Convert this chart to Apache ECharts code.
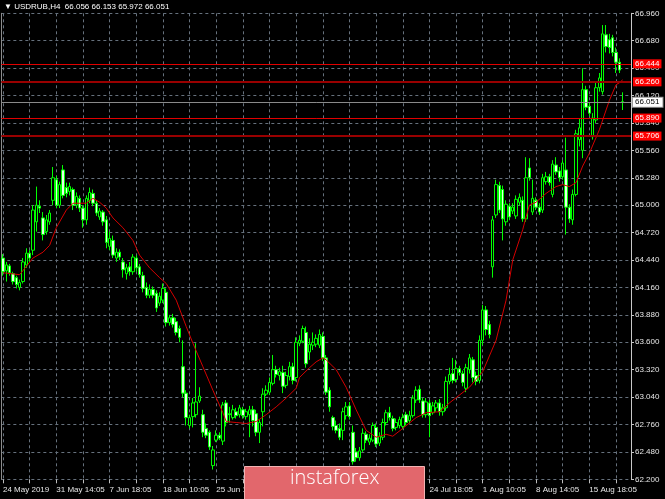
<!DOCTYPE html>
<html><head><meta charset="utf-8">
<script src="https://cdn.jsdelivr.net/npm/echarts@6/dist/echarts.min.js"></script>
<style>html,body{margin:0;padding:0;background:#000;}#c{width:665px;height:499px;}</style>
</head><body><div id="c"></div>
<script>
const symbolName = 'USDRUB,H4';
const timeLabels = ['24 May 2019','31 May 14:05','7 Jun 18:05','18 Jun 10:05','25 Jun 14:05','2 Jul 18:05','10 Jul 10:05','17 Jul 14:05','24 Jul 18:05','1 Aug 10:05','8 Aug 14:05','15 Aug 18:05'];
const barsPerLabel = 16;
const yMin = 62.2, yMax = 66.96, yStep = 0.28;

const opens = [
64.46,64.33,64.38,64.30,64.26,64.16,64.22,64.39,64.51,64.54,
64.83,64.99,64.87,64.73,64.83,65.05,65.26,65.00,65.36,65.18,
65.14,65.16,65.00,65.07,64.97,64.85,65.05,65.12,65.02,64.88,
64.93,64.85,64.58,64.64,64.46,64.52,64.42,64.30,64.37,64.32,
64.46,64.37,64.28,64.16,64.08,64.14,64.10,64.00,64.03,64.11,
63.80,63.85,63.81,63.74,63.35,63.08,62.75,62.84,62.86,63.00,
62.86,62.72,62.68,62.34,62.60,62.65,62.59,62.98,62.87,62.83,
62.89,62.86,62.91,62.84,62.86,62.91,62.87,62.68,62.89,63.07,
63.09,63.18,63.32,63.26,63.29,63.16,63.25,63.35,63.24,63.59,
63.61,63.70,63.50,63.57,63.58,63.57,63.66,63.44,63.11,62.83,
62.75,62.72,62.70,62.85,62.95,62.68,62.48,62.42,62.50,62.66,
62.58,62.60,62.73,62.57,62.63,62.78,62.88,62.82,62.73,62.75,
62.74,62.86,62.80,62.85,63.01,63.12,63.00,62.86,62.98,62.88,
62.93,62.98,62.89,62.93,63.20,63.28,63.22,63.33,63.28,63.13,
63.32,63.42,63.26,63.21,63.62,63.93,63.78,64.37,64.90,65.20,
65.16,64.83,64.99,64.94,64.89,65.03,65.05,64.86,65.38,64.93,
65.05,64.98,64.95,65.24,65.29,65.11,65.41,65.35,65.29,65.36,
64.98,64.85,65.11,65.67,65.56,66.18,66.01,65.70,65.87,66.20,
66.16,66.74,66.69,66.71,66.56,66.46,66.056];
const closes = [
64.32,64.39,64.31,64.22,64.19,64.21,64.42,64.51,64.46,64.95,
65.00,64.97,64.70,64.85,64.92,65.28,65.00,65.21,65.10,65.12,
65.19,65.00,65.09,64.97,64.85,65.07,65.13,65.02,64.92,64.94,
64.83,64.62,64.66,64.49,64.52,64.47,64.34,64.36,64.32,64.47,
64.36,64.29,64.15,64.08,64.14,64.08,63.95,64.07,64.15,63.80,
63.85,63.78,63.70,63.65,63.08,62.83,62.83,62.98,62.99,63.05,
62.68,62.65,62.53,62.50,62.65,62.62,62.96,62.78,62.86,62.91,
62.85,62.93,62.85,62.89,62.91,62.80,62.68,62.78,63.07,63.11,
63.19,63.32,63.27,63.30,63.15,63.26,63.35,63.21,63.60,63.62,
63.74,63.38,63.58,63.60,63.64,63.68,63.44,63.09,62.94,62.74,
62.70,62.63,62.89,62.94,62.84,62.38,62.42,62.49,62.67,62.60,
62.62,62.75,62.56,62.64,62.78,62.88,62.83,62.72,62.78,62.81,
62.83,62.78,62.85,63.03,63.11,63.01,62.86,62.99,62.85,62.95,
62.98,62.89,62.93,63.20,63.27,63.21,63.33,63.29,63.19,63.34,
63.44,63.24,63.20,63.62,63.93,63.73,63.68,64.85,65.21,64.95,
64.86,65.01,64.88,64.98,65.06,65.08,64.86,65.28,65.28,65.07,
64.98,64.93,65.28,65.29,65.23,65.42,65.34,65.28,65.43,64.98,
64.86,65.11,65.73,65.79,66.18,66.00,65.94,65.89,66.20,66.30,
66.75,66.62,66.61,66.56,66.46,66.38,66.051];
const lows = [
64.28,64.22,64.28,64.19,64.15,64.13,64.20,64.36,64.42,64.49,
64.73,64.92,64.64,64.70,64.80,65.00,64.97,64.97,65.07,65.08,
65.10,64.95,64.97,64.93,64.77,64.80,65.02,64.99,64.89,64.85,
64.79,64.56,64.54,64.46,64.42,64.44,64.26,64.24,64.28,64.29,
64.32,64.26,64.11,64.05,64.05,64.05,63.91,63.97,64.00,63.76,
63.77,63.75,63.67,63.60,63.04,62.75,62.72,62.73,62.83,62.98,
62.63,62.62,62.50,62.30,62.58,62.60,62.55,62.74,62.78,62.81,
62.82,62.83,62.82,62.81,62.63,62.74,62.64,62.57,62.74,63.05,
63.06,63.16,63.24,63.21,63.08,63.13,63.21,63.17,63.20,63.56,
63.59,63.34,63.42,63.52,63.55,63.54,63.41,63.06,62.89,62.70,
62.67,62.60,62.60,62.81,62.81,62.35,62.38,62.39,62.48,62.57,
62.55,62.58,62.53,62.54,62.60,62.75,62.80,62.69,62.70,62.72,
62.71,62.75,62.77,62.83,62.98,62.98,62.83,62.83,62.63,62.86,
62.89,62.85,62.85,62.90,63.17,63.18,63.19,63.26,63.15,63.09,
63.28,63.19,63.16,63.18,63.57,63.67,63.64,64.26,64.87,64.92,
64.64,64.79,64.85,64.91,64.86,65.00,64.83,64.83,65.25,64.90,
64.95,64.90,64.92,65.21,65.20,65.08,65.31,65.24,65.26,64.70,
64.82,64.80,65.09,65.60,65.48,65.97,65.91,65.67,65.84,66.16,
66.13,66.56,66.55,66.52,66.35,66.35,65.972];
const highs = [
64.50,64.42,64.40,64.32,64.28,64.24,64.46,64.56,64.54,65.00,
65.19,65.05,64.93,64.90,64.95,65.39,65.30,65.24,65.41,65.23,
65.23,65.18,65.13,65.10,65.00,65.10,65.18,65.16,65.05,64.97,
64.95,64.89,64.73,64.69,64.56,64.55,64.46,64.40,64.42,64.50,
64.49,64.40,64.32,64.21,64.19,64.17,64.13,64.11,64.20,64.15,
63.88,63.89,63.85,63.77,63.62,63.11,62.86,63.03,63.59,63.14,
62.91,62.77,62.70,62.54,62.70,62.68,62.99,63.01,62.94,62.96,
62.93,62.96,62.94,62.92,62.95,62.95,62.91,62.81,63.13,63.16,
63.24,63.47,63.36,63.34,63.36,63.30,63.40,63.39,63.65,63.67,
63.77,63.76,63.64,63.70,63.68,63.73,63.70,63.47,63.14,62.85,
62.80,62.77,62.93,62.99,62.99,62.75,62.52,62.53,62.72,62.69,
62.66,62.78,62.77,62.68,62.82,62.91,62.94,62.85,62.82,62.84,
62.87,62.89,62.90,63.06,63.15,63.16,63.03,63.03,63.01,62.99,
63.01,63.02,62.97,63.25,63.34,63.44,63.42,63.36,63.31,63.38,
63.48,63.45,63.30,63.67,63.98,63.97,63.82,64.89,65.26,65.24,
65.20,65.05,65.02,65.02,65.10,65.12,65.09,65.49,65.48,65.26,
65.08,65.02,65.32,65.34,65.32,65.46,65.49,65.39,65.46,65.69,
65.01,65.16,65.77,65.89,66.40,66.22,66.05,65.94,66.25,66.35,
66.84,66.84,66.75,66.74,66.61,66.50,66.153];

// moving average, read at the bars where it could be measured
const maIdx = [0,5,9,12,14,16,19,21,23,25,27,29,31,33,36,39,41,44,47,49,52,55,57,60,63,66,67,70,73,76,79,82,85,88,89,92,94,96,97,100,103,106,109,112,115,117,120,124,127,131,134,137,140,144,148,151,153,156,157,158,160,163,166,168,170,172,174,176,179,182,184,185,186];
const maVal = [64.31,64.29,64.46,64.52,64.59,64.77,64.95,65.02,65.02,65.02,65.07,65.03,64.97,64.87,64.77,64.64,64.49,64.36,64.26,64.20,64.03,63.76,63.59,63.35,63.11,62.88,62.79,62.78,62.77,62.79,62.86,62.94,63.03,63.13,63.24,63.34,63.40,63.44,63.42,63.32,63.14,62.91,62.70,62.63,62.66,62.64,62.72,62.83,62.88,62.89,62.98,63.06,63.14,63.30,63.62,64.03,64.44,64.75,64.88,65.00,65.03,65.12,65.19,65.21,65.19,65.23,65.40,65.53,65.77,66.07,66.23,66.25,66.28];

const levelValues = [66.444, 66.260, 65.890, 65.706];
const bidValue = 66.051;
const emptySlots = 2;

// ---------- build ----------
const n = opens.length;
const cats = [];
for (let i = 0; i < n + emptySlots; i++) cats.push(String(i));
const candles = opens.map((o, i) => [o, closes[i], lows[i], highs[i]]);
const ma = new Array(n).fill(null);
maIdx.forEach((k, j) => { ma[k] = maVal[j]; });

const FONT = 'Liberation Sans';
const last = n - 1;
const titleText = '\u25BC ' + symbolName + '  ' + [opens[last], highs[last], lows[last], closes[last]].map(v => v.toFixed(3)).join(' ');

const levelStyle = [
  { c: '#e00000', w: 1 }, { c: '#9a0000', w: 2 }, { c: '#e00000', w: 1 }, { c: '#9a0000', w: 2 }
];
const mlData = levelValues.map((v, i) => ({
  yAxis: v,
  lineStyle: { color: levelStyle[i].c, width: levelStyle[i].w, type: 'solid' },
  label: { show: true, position: 'end', distance: 2, formatter: () => v.toFixed(3),
    backgroundColor: '#ff0000', color: '#ffffff', fontSize: 8, fontFamily: FONT, padding: [1, 2, 0, 2] }
}));
mlData.splice(2, 0, {
  yAxis: bidValue,
  lineStyle: { color: '#8a8a8a', width: 1, type: 'solid' },
  label: { show: true, position: 'end', distance: 2, formatter: () => bidValue.toFixed(3),
    backgroundColor: '#ffffff', color: '#000000', fontSize: 8, fontFamily: FONT, padding: [1, 3, 0, 2],
    borderColor: '#9a9a9a', borderWidth: 1 }
});

const gridColor = '#66717d';
const chart = echarts.init(document.getElementById('c'), null, { renderer: 'canvas' });
chart.setOption({
  backgroundColor: '#000000',
  animation: false,
  textStyle: { fontFamily: FONT },
  title: { text: titleText, left: 4, top: 3, padding: 0,
    textStyle: { color: '#ffffff', fontSize: 8, fontWeight: 'normal', fontFamily: FONT } },
  grid: { left: 1, right: 34, top: 13.3, bottom: 19.7, containLabel: false },
  xAxis: {
    type: 'category', data: cats, boundaryGap: true,
    axisLine: { show: false },
    axisTick: { show: true, interval: 7, alignWithLabel: true, length: 4, lineStyle: { color: '#bdbdbd' } },
    axisLabel: { interval: 15, align: 'left', color: '#e6e6e6', fontSize: 8, margin: 6, fontFamily: FONT,
      formatter: (v, i) => (i % barsPerLabel === 0 && timeLabels[i / barsPerLabel]) ? timeLabels[i / barsPerLabel] : '' },
    splitLine: { show: true, interval: 7, alignWithLabel: true, lineStyle: { color: gridColor, type: [3, 3], width: 1 } }
  },
  yAxis: [
    { type: 'value', position: 'right', min: yMin, max: yMax, interval: yStep,
      axisLine: { show: true, lineStyle: { color: '#c8c8c8', width: 1 } },
      axisTick: { show: true, length: 3, lineStyle: { color: '#c8c8c8' } },
      axisLabel: { color: '#e6e6e6', fontSize: 8, margin: 4, fontFamily: FONT, formatter: v => v.toFixed(3) },
      splitLine: { show: true, lineStyle: { color: gridColor, type: [3, 3], width: 1 } } },
    { type: 'value', position: 'left', min: yMin, max: yMax, interval: yStep,
      axisLine: { show: true, lineStyle: { color: '#8c8c8c', width: 1 } },
      axisTick: { show: false }, axisLabel: { show: false }, splitLine: { show: false } }
  ],
  series: [
    { type: 'candlestick', data: candles, yAxisIndex: 0, barWidth: 3,
      itemStyle: { color: '#000000', color0: '#e6ffe6', borderColor: '#00ff00', borderColor0: '#00ff00', borderWidth: 1 },
      markLine: { symbol: 'none', silent: true, animation: false, precision: 3, data: mlData } },
    { type: 'line', data: ma, yAxisIndex: 0, connectNulls: true, showSymbol: false, z: 3,
      lineStyle: { color: '#d40000', width: 1 } }
  ],
  graphic: [
    { type: 'rect', left: 244, top: 466, z: 100, zlevel: 1, shape: { width: 180, height: 40 },
      style: { fill: '#e2676c', stroke: '#f2b3b3', lineWidth: 1 } },
    { type: 'text', left: 290, top: 468, z: 101, zlevel: 1,
      style: { text: 'instaforex', fill: '#ffffff', font: '300 20px "Open Sans"' } }
  ]
});
</script></body></html>
